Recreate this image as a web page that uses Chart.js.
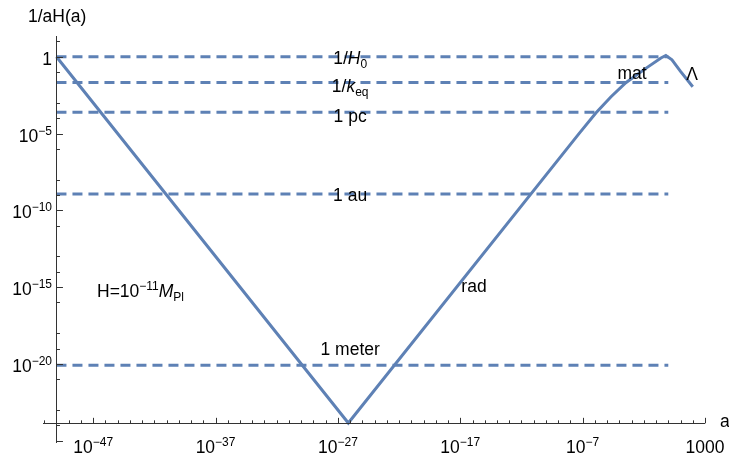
<!DOCTYPE html>
<html><head><meta charset="utf-8">
<script src="https://cdn.jsdelivr.net/npm/chart.js@4/dist/chart.umd.min.js"></script>
<style>html,body{margin:0;padding:0;background:#fff;}#wrap{width:729px;height:454px;}</style>
</head><body><div id="wrap"><canvas id="c" width="729" height="454"></canvas></div>
<script>
// ---- data ----
const curveA = [1e-50, 7.08e-27, 5.25e-8, 1.20e-6, 2.0e-5, 3.39e-4, 1.45e-2, 0.251, 0.631, 2.0, 10, 100];
const curveY = [1, 1.41e-24, 1.02e-5, 2.19e-4, 2.4e-3, 2.04e-2, 0.174, 0.83, 1.2, 0.63, 0.112, 0.0112];
const refLabels = ['1/H0', '1/keq', '1 pc', '1 au', '1 meter'];
const refValues = [1, 2.14e-2, 2.4e-4, 1.15e-9, 8.3e-21];
const refFrom = 1e-50, refTo = 1;
const xTickValues = [1e-47, 1e-37, 1e-27, 1e-17, 1e-7, 1e3];
const xTickBase = ['10', '10', '10', '10', '10', '1000'];
const xTickExp = ['\u221247', '\u221237', '\u221227', '\u221217', '\u22127', ''];
const yTickValues = [1, 1e-5, 1e-10, 1e-15, 1e-20, 1e-25];
const yTickBase = ['1', '10', '10', '10', '10', ''];
const yTickExp = ['', '\u22125', '\u221210', '\u221215', '\u221220', ''];
const xMin = 10 ** -51.1, xMax = 1e3, yMin = 10 ** -25.15, yMax = 10 ** 1.35;
const xAxisAtY = 10 ** -23.87, yAxisAtX = 1e-50;

const FONT = "'Liberation Sans', Arial, Helvetica, sans-serif";
const BLUE = '#5E81B5';
const AXIS = '#333333';
const FS = 17.5, SFS = 12;

const datasets = [{
  label: '1/aH(a)',
  data: curveA.map((a, i) => ({x: a, y: curveY[i]})),
  borderColor: BLUE, borderWidth: 3, pointRadius: 0, tension: 0, fill: false, order: 0
}];
refValues.forEach((v, i) => datasets.push({
  label: refLabels[i],
  data: [{x: refFrom, y: v}, {x: refTo, y: v}],
  borderColor: BLUE, borderWidth: 3, borderDash: [10, 6], pointRadius: 0, fill: false, order: 1
}));

function drawParts(ctx, parts, x, y, align) {
  let w = 0;
  parts.forEach(p => {
    ctx.font = (p.it ? 'italic ' : '') + (p.sub || p.sup ? SFS : FS) + 'px ' + FONT;
    p.w = ctx.measureText(p.t).width; w += p.w;
  });
  let cx = align === 'center' ? x - w / 2 : align === 'right' ? x - w : x;
  ctx.textAlign = 'left'; ctx.textBaseline = 'alphabetic';
  parts.forEach(p => {
    ctx.font = (p.it ? 'italic ' : '') + (p.sub || p.sup ? SFS : FS) + 'px ' + FONT;
    const dy = p.sub ? 4 : p.sup ? -7 : 0;
    ctx.fillText(p.t, cx, y + dy);
    cx += p.w;
  });
}

const deco = {
  id: 'deco',
  afterDatasetsDraw(chart) {
    const ctx = chart.ctx, sx = chart.scales.x, sy = chart.scales.y;
    const px = v => sx.getPixelForValue(v), py = v => sy.getPixelForValue(v);
    const ax = px(yAxisAtX), ay = py(xAxisAtY);
    ctx.save();
    ctx.strokeStyle = AXIS; ctx.lineWidth = 1; ctx.fillStyle = '#000';
    ctx.beginPath();
    ctx.moveTo(sx.left, Math.round(ay) + 0.5); ctx.lineTo(sx.right, Math.round(ay) + 0.5);
    ctx.moveTo(Math.round(ax) + 0.5, sy.top); ctx.lineTo(Math.round(ax) + 0.5, sy.bottom);
    ctx.stroke();
    ctx.beginPath();
    for (let d = -51; d <= 3; d++) {
      const x = Math.round(px(10 ** d)) + 0.5;
      if (x < sx.left || x > sx.right + 1) continue;
      const major = (d + 47) % 10 === 0;
      ctx.moveTo(x, ay); ctx.lineTo(x, ay - (major ? 5.5 : 3));
    }
    for (let d = 1; d >= -25; d--) {
      const y = Math.round(py(10 ** d)) + 0.5;
      const major = d % 5 === 0;
      if (!major && ((-d) % 5 === 2)) continue;
      ctx.moveTo(ax, y); ctx.lineTo(ax + (major ? 6.5 : 3.5), y);
    }
    ctx.stroke();
    xTickValues.forEach((v, i) => {
      const parts = [{t: xTickBase[i]}];
      if (xTickExp[i]) parts.push({t: xTickExp[i], sup: 1});
      drawParts(ctx, parts, px(v), 452.5, 'center');
    });
    yTickValues.forEach((v, i) => {
      if (!yTickBase[i]) return;
      const parts = [{t: yTickBase[i]}];
      if (yTickExp[i]) parts.push({t: yTickExp[i], sup: 1});
      drawParts(ctx, parts, 52, py(v) + 8, 'right');
    });
    const lx = px(1e-26);
    drawParts(ctx, [{t: '1/'}, {t: 'H', it: 1}, {t: '0', sub: 1}], lx, py(refValues[0]) + 7, 'center');
    drawParts(ctx, [{t: '1/'}, {t: 'k', it: 1}, {t: 'eq', sub: 1}], lx, py(refValues[1]) + 10, 'center');
    drawParts(ctx, [{t: refLabels[2]}], lx, py(refValues[2]) + 10, 'center');
    drawParts(ctx, [{t: refLabels[3]}], lx, py(refValues[3]) + 7, 'center');
    drawParts(ctx, [{t: refLabels[4]}], lx, py(refValues[4]) - 10.5, 'center');
    drawParts(ctx, [{t: 'H=10'}, {t: '\u221211', sup: 1}, {t: 'M', it: 1}, {t: 'Pl', sub: 1}], 97, 296.5, 'left');
    drawParts(ctx, [{t: 'rad'}], 474, 292, 'center');
    drawParts(ctx, [{t: 'mat'}], 632, 78.5, 'center');
    drawParts(ctx, [{t: '\u039B'}], 692, 79.5, 'center');
    drawParts(ctx, [{t: '1/aH(a)'}], 28, 22, 'left');
    drawParts(ctx, [{t: 'a'}], 720, 427, 'left');
    ctx.restore();
  }
};

new Chart(document.getElementById('c'), {
  type: 'line',
  data: {datasets},
  options: {
    responsive: false, animation: false, devicePixelRatio: 1,
    layout: {padding: {left: 43, right: 24, top: 36, bottom: 11}},
    plugins: {legend: {display: false}, tooltip: {enabled: false}},
    scales: {
      x: {type: 'logarithmic', min: xMin, max: xMax, bounds: 'data', display: false},
      y: {type: 'logarithmic', min: yMin, max: yMax, bounds: 'data', display: false}
    }
  },
  plugins: [deco]
});
</script></body></html>
